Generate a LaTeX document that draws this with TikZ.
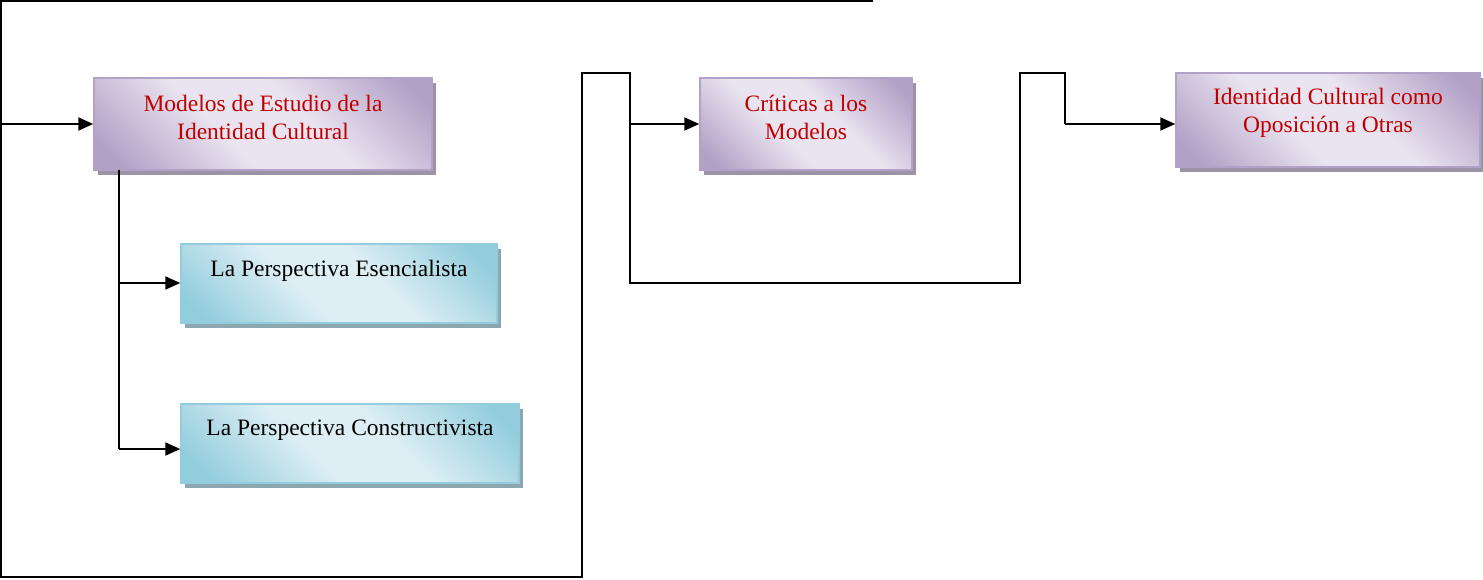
\documentclass[tikz,border=0pt]{standalone}
\usepackage{fontspec}
\setmainfont{Liberation Serif}
\usetikzlibrary{arrows.meta,shadows}
\definecolor{pdark}{HTML}{B3A2C7}
\definecolor{plight}{HTML}{EAE4F0}
\definecolor{pshadow}{HTML}{9C93A6}
\definecolor{bdark}{HTML}{93CDDD}
\definecolor{blight}{HTML}{DDEEF4}
\definecolor{bshadow}{HTML}{8CA7B0}
\definecolor{redtext}{HTML}{C00000}
\pgfdeclareverticalshading{pshade}{100bp}{color(0bp)=(pdark); color(20bp)=(pdark); color(42bp)=(plight); color(58bp)=(plight); color(80bp)=(pdark); color(100bp)=(pdark)}
\pgfdeclareverticalshading{bshade}{100bp}{color(0bp)=(bdark); color(20bp)=(bdark); color(42bp)=(blight); color(58bp)=(blight); color(80bp)=(bdark); color(100bp)=(bdark)}
\tikzset{
  pbox/.style={rectangle, draw=pdark, line width=1.5pt, shading=pshade, shading angle=-45,
    drop shadow={shadow xshift=4pt, shadow yshift=-5pt, fill=pshadow, opacity=1}, inner sep=0pt},
  bbox/.style={rectangle, draw=bdark, line width=1.5pt, shading=bshade, shading angle=-45,
    drop shadow={shadow xshift=4pt, shadow yshift=-5pt, fill=bshadow, opacity=1}, inner sep=0pt},
  rtext/.style={align=center, text=redtext, font=\fontsize{23.5}{28}\selectfont, inner sep=0pt},
  ktext/.style={align=center, text=black, font=\fontsize{23.5}{28}\selectfont, inner sep=0pt},
  conn/.style={line width=2pt, black},
  arr/.style={conn, -{Triangle[length=15pt,width=13pt]}},
}
\begin{document}
\begin{tikzpicture}[x=1pt,y=-1pt]
\useasboundingbox (0,0) rectangle (1483,580);
% boxes
\node[pbox, minimum width=338pt, minimum height=92pt] (m) at (263,124) {};
\node[rtext] (mt) at (263,117) {Modelos de Estudio de la\\Identidad Cultural};
\node[bbox, minimum width=316pt, minimum height=79pt] (e) at (339,283.5) {};
\node[ktext] (et) at (339,271) {La Perspectiva Esencialista};
\node[bbox, minimum width=338pt, minimum height=79pt] (c) at (350,443.5) {};
\node[ktext] (ct) at (350,430) {La Perspectiva Constructivista};
\node[pbox, minimum width=212pt, minimum height=92pt] (k) at (806,124) {};
\node[rtext] (kt) at (806,117) {Críticas a los\\Modelos};
\node[pbox, minimum width=304pt, minimum height=94pt] (o) at (1328,120) {};
\node[rtext] (ot) at (1328,113) {Identidad Cultural como\\Oposición a Otras};
% coordinates
\coordinate (a0) at (0,124);
\coordinate (t1) at (873,1);
\coordinate (t0) at (1,1);
\coordinate (b0) at (1,577);
\coordinate (b1) at (582,577);
\coordinate (u1) at (582,73);
\coordinate (u2) at (630,73);
\coordinate (d1) at (630,124);
\coordinate (d2) at (630,283);
\coordinate (r1) at (1020,283);
\coordinate (r2) at (1020,73);
\coordinate (r3) at (1065,73);
\coordinate (r4) at (1065,124);
\coordinate (v0) at (119,170);
\coordinate (v1) at (119,283);
\coordinate (v2) at (119,449);
% connectors
\draw[arr] (a0) -- (a0 -| m.west);
\draw[conn] (t1) -- (t0) -- (b0) -- (b1) -- (u1) -- (u2) -- (d2) -- (r1) -- (r2) -- (r3) -- (r4);
\draw[arr] (d1) -- (d1 -| k.west);
\draw[arr] (r4) -- (r4 -| o.west);
\draw[conn] (v0) -- (v2);
\draw[arr] (v1) -- (v1 -| e.west);
\draw[arr] (v2) -- (v2 -| c.west);
\end{tikzpicture}
\end{document}
